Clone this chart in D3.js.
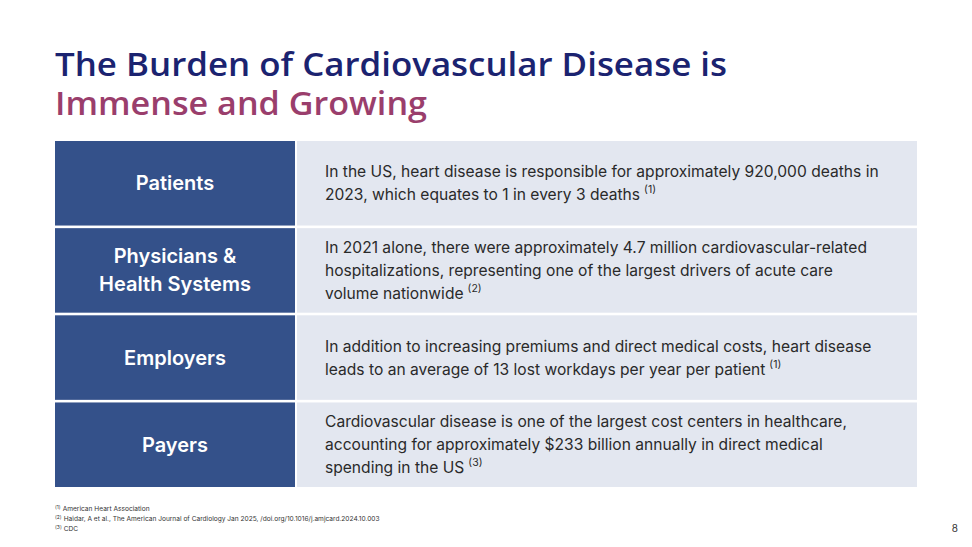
<!DOCTYPE html>
<html>
<head>
<meta charset="utf-8">
<script src="https://cdn.jsdelivr.net/npm/d3@7"></script>
<style>
  html, body { margin: 0; padding: 0; background: #fff; }
  svg { display: block; }
</style>
</head>
<body>
<div id="slide"></div>
<script>
// slide content
const titleLines = ["The Burden of Cardiovascular Disease is", "Immense and Growing"]
const categories = ["Patients", "Physicians & Health Systems", "Employers", "Payers"]
const labelLines = [["Patients"], ["Physicians &", "Health Systems"], ["Employers"], ["Payers"]]
const descLines = [
  ["In the US, heart disease is responsible for approximately 920,000 deaths in",
   "2023, which equates to 1 in every 3 deaths"],
  ["In 2021 alone, there were approximately 4.7 million cardiovascular-related",
   "hospitalizations, representing one of the largest drivers of acute care",
   "volume nationwide"],
  ["In addition to increasing premiums and direct medical costs, heart disease",
   "leads to an average of 13 lost workdays per year per patient"],
  ["Cardiovascular disease is one of the largest cost centers in healthcare,",
   "accounting for approximately $233 billion annually in direct medical",
   "spending in the US"]
]
const refs = ["(1)", "(2)", "(1)", "(3)"]
const footnotes = [
  ["(1)", "American Heart Association"],
  ["(2)", "Haidar, A et al., The American Journal of Cardiology Jan 2025, /doi.org/10.1016/j.amjcard.2024.10.003"],
  ["(3)", "CDC"]
]
const pageNumber = "8"

const width = 972
const height = 547

const svg = d3.select("#slide")
  .append("svg")
    .attr("width", width)
    .attr("height", height)

// title
svg.append("g")
  .selectAll("text")
  .data(titleLines)
  .join("text")
    .attr("x", 55)
    .attr("y", (d, i) => 76 + i * 39)
    .attr("textLength", (d, i) => i == 0 ? 672 : 372)
    .attr("lengthAdjust", "spacingAndGlyphs")
    .style("font-family", "'Open Sans', sans-serif")
    .style("font-weight", 600)
    .style("font-size", "32px")
    .style("fill", (d, i) => i == 0 ? "#1b2370" : "#9a3e6c")
    .text(d => d)

const y = d3.scaleBand()
  .domain(categories)
  .range([141, 487])
  .paddingInner(0.03)

const x = d3.scaleLinear()
  .domain([0, 1])
  .range([55, 917])

const split = 295

let rows = svg.append("g")
  .selectAll("g")
  .data(categories)
  .join("g")
    .attr("transform", d => `translate(0,${y(d)})`)

rows.append("rect")
  .attr("x", x(0))
  .attr("width", split - x(0))
  .attr("height", y.bandwidth())
  .style("fill", "#34518a")

rows.append("rect")
  .attr("x", split + 2)
  .attr("width", x(1) - split - 2)
  .attr("height", y.bandwidth())
  .style("fill", "#e3e7f0")

// left labels
rows.each(function(d, i) {
  const g = d3.select(this)
  const lines = labelLines[i]
  const lh = 28
  g.selectAll("text.label")
    .data(lines)
    .join("text")
      .attr("class", "label")
      .attr("x", (x(0) + split) / 2)
      .attr("y", (l, j) => y.bandwidth() / 2 + (j - (lines.length - 1) / 2) * lh)
      .attr("dy", ".35em")
      .attr("text-anchor", "middle")
      .style("font-family", "Inter, sans-serif")
      .style("font-weight", 600)
      .style("font-size", "20px")
      .style("fill", "#fff")
      .text(l => l)
})

// descriptions
rows.each(function(d, i) {
  const g = d3.select(this)
  const lines = descLines[i]
  const lh = 23
  const t = g.selectAll("text.desc")
    .data(lines)
    .join("text")
      .attr("class", "desc")
      .attr("x", 325)
      .attr("y", (l, j) => y.bandwidth() / 2 + (j - (lines.length - 1) / 2) * lh)
      .attr("dy", ".35em")
      .style("font-family", "Inter, sans-serif")
      .style("font-size", "15.6px")
      .style("fill", "#2a2a2a")
      .text(l => l)
  t.filter((l, j) => j == lines.length - 1)
    .append("tspan")
      .attr("dx", 4)
      .attr("dy", -7)
      .style("font-size", "10.5px")
      .text(refs[i])
})

// footnotes
let fn = svg.append("g")
  .selectAll("text")
  .data(footnotes)
  .join("text")
    .attr("x", 55)
    .attr("y", (d, i) => 511 + i * 10)
    .style("font-family", "Inter, sans-serif")
    .style("font-size", "6.6px")
    .style("fill", "#333")
fn.append("tspan")
  .attr("dy", -2)
  .style("font-size", "5px")
  .text(d => d[0])
fn.append("tspan")
  .attr("dx", 2)
  .attr("dy", 2)
  .text(d => d[1])

svg.append("text")
  .attr("x", 958)
  .attr("y", 532)
  .attr("text-anchor", "end")
  .style("font-family", "Inter, sans-serif")
  .style("font-size", "10px")
  .style("fill", "#333")
  .text(pageNumber)
</script>
</body>
</html>
